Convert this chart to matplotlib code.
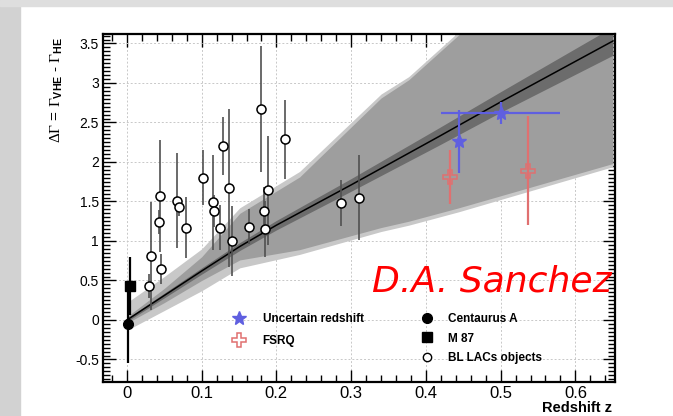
import matplotlib
matplotlib.use("Agg")
import matplotlib.pyplot as plt
from matplotlib.lines import Line2D
from matplotlib.patches import Rectangle
from matplotlib.ticker import MultipleLocator

plt.rcParams['font.family'] = ['Liberation Sans', 'DejaVu Sans']
plt.rcParams['mathtext.fontset'] = 'custom'
plt.rcParams['mathtext.rm'] = 'Liberation Serif'
plt.rcParams['mathtext.bf'] = 'Liberation Sans:bold'

# BL Lac objects
bllac_z = [0.029, 0.032, 0.043, 0.044, 0.046, 0.067, 0.070, 0.079, 0.102, 0.115, 0.117, 0.124,
           0.128, 0.136, 0.141, 0.164, 0.179, 0.183, 0.185, 0.189, 0.212, 0.286, 0.310]
bllac_dg = [0.43, 0.81, 1.24, 1.57, 0.65, 1.51, 1.43, 1.17, 1.80, 1.49, 1.38, 1.17,
            2.20, 1.67, 1.00, 1.18, 2.67, 1.38, 1.15, 1.64, 2.29, 1.48, 1.55]
bllac_err = [0.15, 0.68, 0.15, 0.71, 0.19, 0.60, 0.12, 0.39, 0.35, 0.60, 0.20, 0.28,
             0.37, 1.00, 0.44, 0.22, 0.80, 0.30, 0.35, 0.69, 0.50, 0.29, 0.54]

# radio galaxies
cena_z, cena_dg, cena_err = [0.0018], [-0.05], [0.50]
m87_z, m87_dg, m87_err = [0.0044], [0.43], [0.37]

# uncertain redshift and FSRQ
unc_z = [0.444, 0.500]
unc_dg = [2.26, 2.62]
unc_yerr = [0.40, 0.14]
unc_xerr = [0.0, 0.08]
fsrq_z = [0.432, 0.536]
fsrq_dg = [1.81, 1.89]
fsrq_err = [0.34, 0.69]

# fit line and its uncertainty
fit_z = [0, 0.1, 0.151, 0.2, 0.3, 0.417, 0.5, 0.65]
fit_dg = [0.0, 0.62, 0.93, 1.20, 1.71, 2.32, 2.76, 3.53]
fit_err = [0.02, 0.04, 0.05, 0.06, 0.08, 0.11, 0.13, 0.18]

# model bands
band_z = [0, 0.05, 0.1, 0.151, 0.231, 0.34, 0.377, 0.444, 0.65]
light_hi = [0.22, 0.55, 0.90, 1.42, 1.88, 2.86, 3.08, 3.65, 4.6]
mid_hi = [0.04, 0.40, 0.80, 1.35, 1.81, 2.81, 3.04, 3.61, 4.6]
mid_lo = [-0.04, 0.22, 0.50, 0.76, 0.89, 1.17, 1.25, 1.42, 1.98]
light_lo = [-0.13, 0.12, 0.37, 0.66, 0.83, 1.12, 1.20, 1.37, 1.94]

fig = plt.figure(figsize=(6.73, 4.16), dpi=100)
fig.patches.append(Rectangle((0, 0), 20 / 673, 1, transform=fig.transFigure, color='#d2d2d2', zorder=-5))
fig.patches.append(Rectangle((0, 1 - 6 / 416), 1, 6 / 416, transform=fig.transFigure, color='#dedede', zorder=-5))
ax = fig.add_axes([103 / 673, 34 / 416, 512 / 673, 348 / 416])

ax.fill_between(band_z, light_lo, light_hi, color='#c8c8c8', lw=0, zorder=1)
ax.fill_between(band_z, mid_lo, mid_hi, color='#9e9e9e', lw=0, zorder=1.1)
lo = [d - e for d, e in zip(fit_dg, fit_err)]
hi = [d + e for d, e in zip(fit_dg, fit_err)]
ax.fill_between(fit_z, lo, hi, color='#6c6c6c', lw=0, zorder=1.2)
ax.plot(fit_z, fit_dg, color='black', lw=1.1, zorder=1.3)

ax.errorbar(cena_z, cena_dg, yerr=cena_err, fmt='o', color='black', ms=7, elinewidth=1.6, capsize=0, zorder=3)
ax.errorbar(m87_z, m87_dg, yerr=m87_err, fmt='s', color='black', ms=7, elinewidth=1.6, capsize=0, zorder=3)
ax.errorbar(bllac_z, bllac_dg, yerr=bllac_err, fmt='o', mfc='white', mec='black', mew=1.1, ms=6.5,
            ecolor='#505050', elinewidth=1.2, capsize=0, zorder=3)
ax.errorbar(fsrq_z, fsrq_dg, yerr=fsrq_err, fmt='P', mfc='none', mec='#e07070', mew=1.1, ms=10,
            ecolor='#e07070', elinewidth=1.6, capsize=0, zorder=3)
ax.errorbar(unc_z, unc_dg, yerr=unc_yerr, xerr=unc_xerr, fmt='*', color='#5f5fe0', ms=10,
            elinewidth=1.6, capsize=0, zorder=3)

ax.set_xlim(-0.032, 0.653)
ax.set_ylim(-0.785, 3.62)
ax.xaxis.set_major_locator(MultipleLocator(0.1))
ax.xaxis.set_minor_locator(MultipleLocator(0.02))
ax.yaxis.set_major_locator(MultipleLocator(0.5))
ax.yaxis.set_minor_locator(MultipleLocator(0.05))
ax.xaxis.set_major_formatter(plt.FuncFormatter(lambda v, p: '0' if abs(v) < 1e-9 else '%g' % v))
ax.yaxis.set_major_formatter(plt.FuncFormatter(lambda v, p: '0' if abs(v) < 1e-9 else '%g' % v))
ax.tick_params(which='both', direction='in', top=True, right=True, width=1)
ax.tick_params(which='major', length=9)
ax.tick_params(which='minor', length=5)
ax.tick_params(axis='x', labelsize=12, pad=3)
ax.tick_params(axis='y', labelsize=10, pad=3)
for s in ax.spines.values():
    s.set_linewidth(1.6)
ax.set_axisbelow(True)
ax.grid(True, which='major', color='#c8c8c8', linestyle=(0, (2, 2)), lw=0.7)

ax.set_xlabel('Redshift z', loc='right', fontweight='bold', fontsize=10.5)
ax.xaxis.set_label_coords(0.995, -0.056)
fig.text(57 / 673, 1 - 90 / 416, r'$\Delta\Gamma$ = $\Gamma_{\mathbf{VHE}}$ - $\Gamma_{\mathbf{HE}}$',
         rotation=90, ha='center', va='center', fontsize=11)

prop = {'weight': 'bold', 'size': 8.5}
h1 = [Line2D([], [], ls='none', marker='*', color='#5f5fe0', ms=10),
      Line2D([], [], ls='none', marker='P', mfc='none', mec='#e07070', mew=1.1, ms=10)]
leg1 = ax.legend(h1, ['Uncertain redshift', 'FSRQ'], loc='upper left', bbox_to_anchor=(0.254, 0.199),
                 frameon=False, prop=prop, handlelength=1.0, handletextpad=1.5, labelspacing=0.84,
                 borderpad=0, borderaxespad=0)
ax.add_artist(leg1)
h2 = [Line2D([], [], ls='none', marker='o', color='black', ms=7),
      Line2D([], [], ls='none', marker='s', color='black', ms=7),
      Line2D([], [], ls='none', marker='o', mfc='white', mec='black', ms=6)]
ax.legend(h2, ['Centaurus A', 'M 87', 'BL LACs objects'], loc='upper left', bbox_to_anchor=(0.621, 0.199),
          frameon=False, prop=prop, handlelength=1.0, handletextpad=1.28, labelspacing=0.66,
          borderpad=0, borderaxespad=0)

fig.text(372 / 673, 1 - 281 / 416, 'D.A. Sanchez', color='red', style='italic', fontsize=26,
         family='DejaVu Sans', ha='left', va='center')

fig.savefig('out.png', dpi=100)
